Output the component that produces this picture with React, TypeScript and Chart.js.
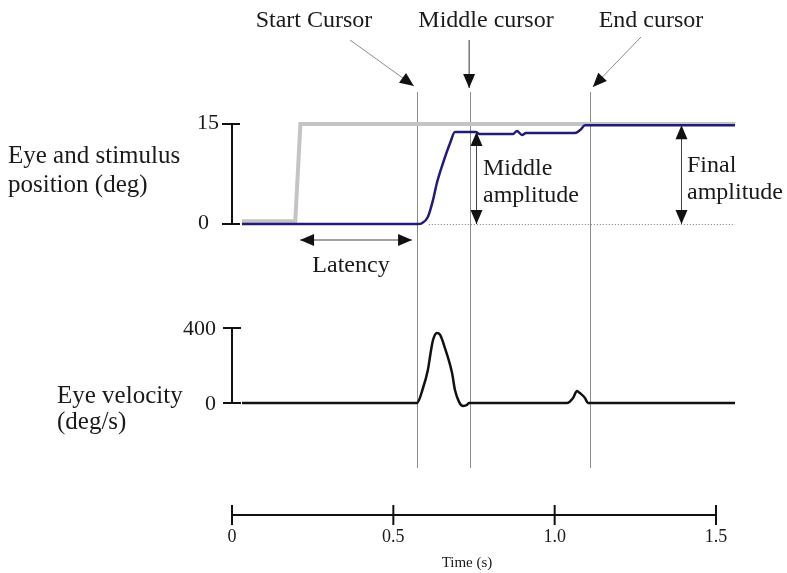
import { useEffect, useRef } from 'react';
import { Chart, registerables } from 'chart.js';

Chart.register(...registerables);

// ---- data ----
const stimTime = [0.031, 0.196, 0.212, 1.559];
const stimPos = [0.4, 0.4, 15, 15];

const eyeTime = [0.031, 0.576, 0.588, 0.607, 0.623, 0.635, 0.654, 0.676, 0.691, 0.756, 0.766, 0.871, 0.883, 0.899, 0.911, 1.063, 1.079, 1.094, 1.559];
const eyePos = [0, 0, 0.1, 1.05, 3.6, 6.15, 9.15, 12.15, 13.8, 13.8, 13.5, 13.5, 13.95, 13.35, 13.65, 13.65, 14.1, 14.8, 14.8];

const velTime = [0.031, 0.573, 0.592, 0.607, 0.617, 0.623, 0.635, 0.645, 0.66, 0.682, 0.691, 0.704, 0.716, 0.728, 0.734, 1.038, 1.057, 1.069, 1.078, 1.094, 1.103, 1.559];
const velValues = [0, 0, 80, 176, 283, 336, 373, 363, 293, 160, 69, 5, -16, -11, 0, 0, 27, 64, 53, 27, 0, 0];

const timeTicks = [0, 0.5, 1.0, 1.5];
const timeTickLabels = ['0', '0.5', '1.0', '1.5'];
const posTicks = [0, 15];
const posTickLabels = ['0', '15'];
const velTicks = [0, 400];
const velTickLabels = ['0', '400'];

const cursorTimes = [0.573, 0.738, 1.109];
const cursorLabels = ['Start Cursor', 'Middle cursor', 'End cursor'];

const latencyRange = [0.211, 0.558];
const middleAmplitude = 13.8;
const middleAmpTime = 0.756;
const finalAmplitude = 14.8;
const finalAmpTime = 1.391;

const SERIF = '"Liberation Serif", "Times New Roman", serif';

function arrowHead(ctx: CanvasRenderingContext2D, fx: number, fy: number, tx: number, ty: number, len = 14, half = 6) {
  const a = Math.atan2(ty - fy, tx - fx);
  ctx.beginPath();
  ctx.moveTo(tx, ty);
  ctx.lineTo(tx - len * Math.cos(a) + half * Math.sin(a), ty - len * Math.sin(a) - half * Math.cos(a));
  ctx.lineTo(tx - len * Math.cos(a) - half * Math.sin(a), ty - len * Math.sin(a) + half * Math.cos(a));
  ctx.closePath();
  ctx.fill();
}

function seg(ctx: CanvasRenderingContext2D, x1: number, y1: number, x2: number, y2: number) {
  ctx.beginPath();
  ctx.moveTo(x1, y1);
  ctx.lineTo(x2, y2);
  ctx.stroke();
}

function arrow(ctx: CanvasRenderingContext2D, x1: number, y1: number, x2: number, y2: number, both: boolean, lineColor: string) {
  ctx.strokeStyle = lineColor;
  ctx.lineWidth = 1;
  seg(ctx, x1, y1, x2, y2);
  ctx.fillStyle = '#111';
  arrowHead(ctx, x1, y1, x2, y2);
  if (both) arrowHead(ctx, x2, y2, x1, y1);
}

const overlay = {
  id: 'overlay',
  beforeDatasetsDraw(chart: any) {
    const { ctx, scales } = chart;
    const xs = scales.x, yp = scales.yPos;
    ctx.save();
    ctx.strokeStyle = '#8c8c8c';
    ctx.lineWidth = 1;
    cursorTimes.forEach((t) => {
      const px = Math.round(xs.getPixelForValue(t)) + 0.5;
      seg(ctx, px, 92, px, 468);
    });
    ctx.setLineDash([1, 2]);
    ctx.strokeStyle = '#777';
    const zy = Math.round(yp.getPixelForValue(0)) + 0.5;
    seg(ctx, xs.getPixelForValue(0.61), zy, xs.getPixelForValue(1.559), zy);
    ctx.restore();
  },
  afterDatasetsDraw(chart: any) {
    const { ctx, scales } = chart;
    const xs = scales.x, yp = scales.yPos, yv = scales.yVel;
    const x0 = xs.getPixelForValue(0);
    ctx.save();
    ctx.strokeStyle = '#111';
    ctx.fillStyle = '#111';
    ctx.lineWidth = 2;

    // position axis
    seg(ctx, x0, yp.getPixelForValue(0), x0, yp.getPixelForValue(15));
    posTicks.forEach((v) => seg(ctx, x0 - 10, yp.getPixelForValue(v), x0 + 8, yp.getPixelForValue(v)));
    // velocity axis
    seg(ctx, x0, yv.getPixelForValue(0), x0, yv.getPixelForValue(400));
    velTicks.forEach((v) => seg(ctx, x0 - 9, yv.getPixelForValue(v), x0 + 9, yv.getPixelForValue(v)));
    // time axis
    const ty = 515;
    seg(ctx, xs.getPixelForValue(0), ty, xs.getPixelForValue(1.5), ty);
    timeTicks.forEach((t) => seg(ctx, xs.getPixelForValue(t), ty - 10, xs.getPixelForValue(t), ty + 10));

    // tick labels
    ctx.fillStyle = '#1a1a1a';
    ctx.textBaseline = 'middle';
    ctx.textAlign = 'right';
    ctx.font = `22px ${SERIF}`;
    posTicks.forEach((v, i) => ctx.fillText(posTickLabels[i], v === 0 ? 209 : 219, yp.getPixelForValue(v) - 1));
    velTicks.forEach((v, i) => ctx.fillText(velTickLabels[i], 216, yv.getPixelForValue(v) + 1));
    ctx.textAlign = 'center';
    ctx.font = `18px ${SERIF}`;
    timeTicks.forEach((t, i) => ctx.fillText(timeTickLabels[i], xs.getPixelForValue(t), 537));
    ctx.font = `15px ${SERIF}`;
    ctx.fillText('Time (s)', 467, 563);

    // axis titles
    ctx.font = `25px ${SERIF}`;
    ctx.textAlign = 'left';
    ctx.textBaseline = 'alphabetic';
    ctx.fillText('Eye and stimulus', 8, 163);
    ctx.fillText('position (deg)', 8, 192);
    ctx.fillText('Eye velocity', 57, 403);
    ctx.fillText('(deg/s)', 57, 429);

    // cursor labels
    ctx.font = `24px ${SERIF}`;
    ctx.textAlign = 'center';
    const labelX = [314, 486, 651];
    cursorLabels.forEach((l, i) => ctx.fillText(l, labelX[i], 27));

    // cursor arrows
    const c0 = xs.getPixelForValue(cursorTimes[0]);
    const c1 = xs.getPixelForValue(cursorTimes[1]);
    const c2 = xs.getPixelForValue(cursorTimes[2]);
    arrow(ctx, 350, 40, c0 - 3, 86, false, '#8c8c8c');
    arrow(ctx, c1 - 1, 40, c1 - 1, 88, false, '#333');
    arrow(ctx, 641, 37, c2 + 3, 87, false, '#8c8c8c');

    // latency
    const ly = 240;
    arrow(ctx, xs.getPixelForValue(latencyRange[0]), ly, xs.getPixelForValue(latencyRange[1]), ly, true, '#444');
    ctx.fillStyle = '#1a1a1a';
    ctx.fillText('Latency', 351, 272);

    // middle amplitude
    const mx = Math.round(xs.getPixelForValue(middleAmpTime)) + 0.5;
    arrow(ctx, mx, yp.getPixelForValue(middleAmplitude), mx, yp.getPixelForValue(0), true, '#444');
    ctx.fillStyle = '#1a1a1a';
    ctx.textAlign = 'left';
    ctx.fillText('Middle', 483, 175);
    ctx.fillText('amplitude', 483, 202);

    // final amplitude
    const fx = Math.round(xs.getPixelForValue(finalAmpTime)) + 0.5;
    arrow(ctx, fx, yp.getPixelForValue(finalAmplitude), fx, yp.getPixelForValue(0), true, '#444');
    ctx.fillStyle = '#1a1a1a';
    ctx.fillText('Final', 687, 172);
    ctx.fillText('amplitude', 687, 199);

    ctx.restore();
  },
};

const toPoints = (xs: number[], ys: number[]) => xs.map((x, i) => ({ x, y: ys[i] }));

export default function App() {
  const ref = useRef<HTMLCanvasElement | null>(null);
  useEffect(() => {
    if (!ref.current) return;
    const H = 573;
    // pixel anchors of the two value axes
    const posTop = 124, posZero = 224;
    const velTop = 328, velZero = 403;
    const posPerPx = 15 / (posZero - posTop);
    const velPerPx = 400 / (velZero - velTop);
    const chart = new Chart(ref.current, {
      type: 'line',
      data: {
        datasets: [
          {
            label: 'Stimulus',
            data: toPoints(stimTime, stimPos),
            yAxisID: 'yPos',
            borderColor: '#c4c4c4',
            borderWidth: 4,
            pointRadius: 0,
            tension: 0,
            order: 3,
            clip: false,
          },
          {
            label: 'Eye position',
            data: toPoints(eyeTime, eyePos),
            yAxisID: 'yPos',
            borderColor: '#211c7c',
            borderWidth: 2.5,
            pointRadius: 0,
            cubicInterpolationMode: 'monotone',
            order: 1,
            clip: false,
          },
          {
            label: 'Eye velocity',
            data: toPoints(velTime, velValues),
            yAxisID: 'yVel',
            borderColor: '#111111',
            borderWidth: 2.5,
            pointRadius: 0,
            cubicInterpolationMode: 'monotone',
            order: 2,
            clip: false,
          },
        ] as any,
      },
      options: {
        animation: false,
        responsive: false,
        devicePixelRatio: 1,
        layout: { padding: { left: 232, right: 71, top: 0, bottom: 0 } },
        plugins: { legend: { display: false }, tooltip: { enabled: false } },
        events: [],
        scales: {
          x: { type: 'linear', min: 0, max: 1.5, display: false },
          yPos: {
            type: 'linear',
            display: false,
            min: -(H - posZero) * posPerPx,
            max: posZero * posPerPx,
          },
          yVel: {
            type: 'linear',
            display: false,
            min: -(H - velZero) * velPerPx,
            max: velZero * velPerPx,
          },
        },
      } as any,
      plugins: [overlay],
    });
    return () => chart.destroy();
  }, []);
  return (
    <div style={{ position: 'fixed', left: 0, top: 0, width: 787, height: 573, background: '#fff' }}>
      <canvas ref={ref} width={787} height={573} />
    </div>
  );
}
